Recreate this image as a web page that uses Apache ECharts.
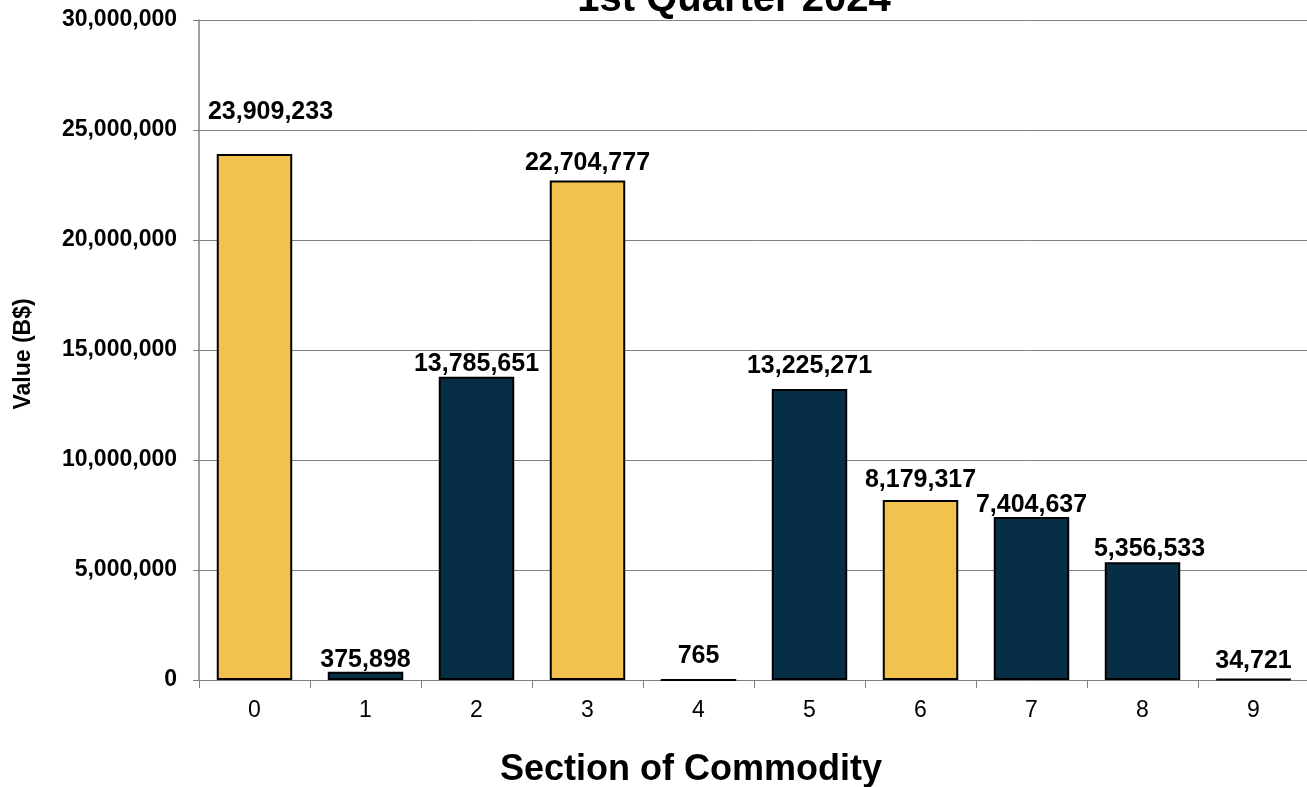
<!DOCTYPE html>
<html><head><meta charset="utf-8">
<script src="https://cdn.jsdelivr.net/npm/echarts@6/dist/echarts.min.js"></script>
<style>html,body{margin:0;padding:0;background:#fff}#c{width:1307px;height:787px}</style>
</head><body><div id="c"></div>
<script>
const categories = ['0','1','2','3','4','5','6','7','8','9'];
const values = [23909233, 375898, 13785651, 22704777, 765, 13225271, 8179317, 7404637, 5356533, 34721];
const highlighted = [true, false, false, true, false, false, true, false, false, false];
const yTicks = [0, 5000000, 10000000, 15000000, 20000000, 25000000, 30000000];

const GOLD = '#F2C14E', NAVY = '#062F46';
const labelOffsets = [[16,-24],[0,6],[0,5],[0,0],[0,-5],[0,-5],[0,-2],[0,6],[7,4],[0,0]];
const fmt = v => v.toLocaleString('en-US');
const FF = 'Liberation Sans, Arial';

const chart = echarts.init(document.getElementById('c'));
chart.setOption({
  animation: false,
  title: { text: '1st Quarter 2024', left: 729, textAlign: 'center', top: -25,
    textStyle: { fontFamily: FF, fontWeight: 'bold', fontSize: 40, color: '#000' } },
  grid: { left: 199, top: 20, width: 1110, height: 660, outerBoundsMode: 'none', containLabel: false },
  xAxis: {
    type: 'category', data: categories,
    axisLine: { lineStyle: { color: '#808080', width: 1 } },
    axisTick: { show: true, length: 8, lineStyle: { color: '#808080' } },
    axisLabel: { fontFamily: FF, fontSize: 23, color: '#000', margin: 19 },
    name: 'Section of Commodity', nameLocation: 'middle', nameGap: 72,
    nameTextStyle: { fontFamily: FF, fontWeight: 'bold', fontSize: 36, color: '#000', padding: [0, 126, 0, 0] }
  },
  yAxis: {
    type: 'value', min: 0, max: 30000000, interval: 5000000,
    axisLine: { show: true, lineStyle: { color: '#808080', width: 1.5 } },
    axisTick: { show: true, length: 6, lineStyle: { color: '#808080' } },
    splitLine: { lineStyle: { color: '#808080', width: 1 } },
    axisLabel: { fontFamily: FF, fontWeight: 'bold', fontSize: 23, color: '#000', margin: 22,
      formatter: v => yTicks.includes(v) ? fmt(v) : '' },
    name: 'Value (B$)', nameLocation: 'middle', nameGap: 164, nameRotate: 90,
    nameTextStyle: { fontFamily: FF, fontWeight: 'bold', fontSize: 23, color: '#000', padding: [0, 8, 0, 0] }
  },
  series: [{
    type: 'bar', barWidth: '68%',
    data: values.map((v, i) => ({
      value: v,
      itemStyle: { color: highlighted[i] ? GOLD : NAVY },
      label: { offset: labelOffsets[i] }
    })),
    itemStyle: { borderColor: '#000', borderWidth: 2 },
    label: { show: true, position: 'top', distance: 5, formatter: p => fmt(p.value),
      fontFamily: FF, fontWeight: 'bold', fontSize: 25, color: '#000' }
  }]
});
</script></body></html>
